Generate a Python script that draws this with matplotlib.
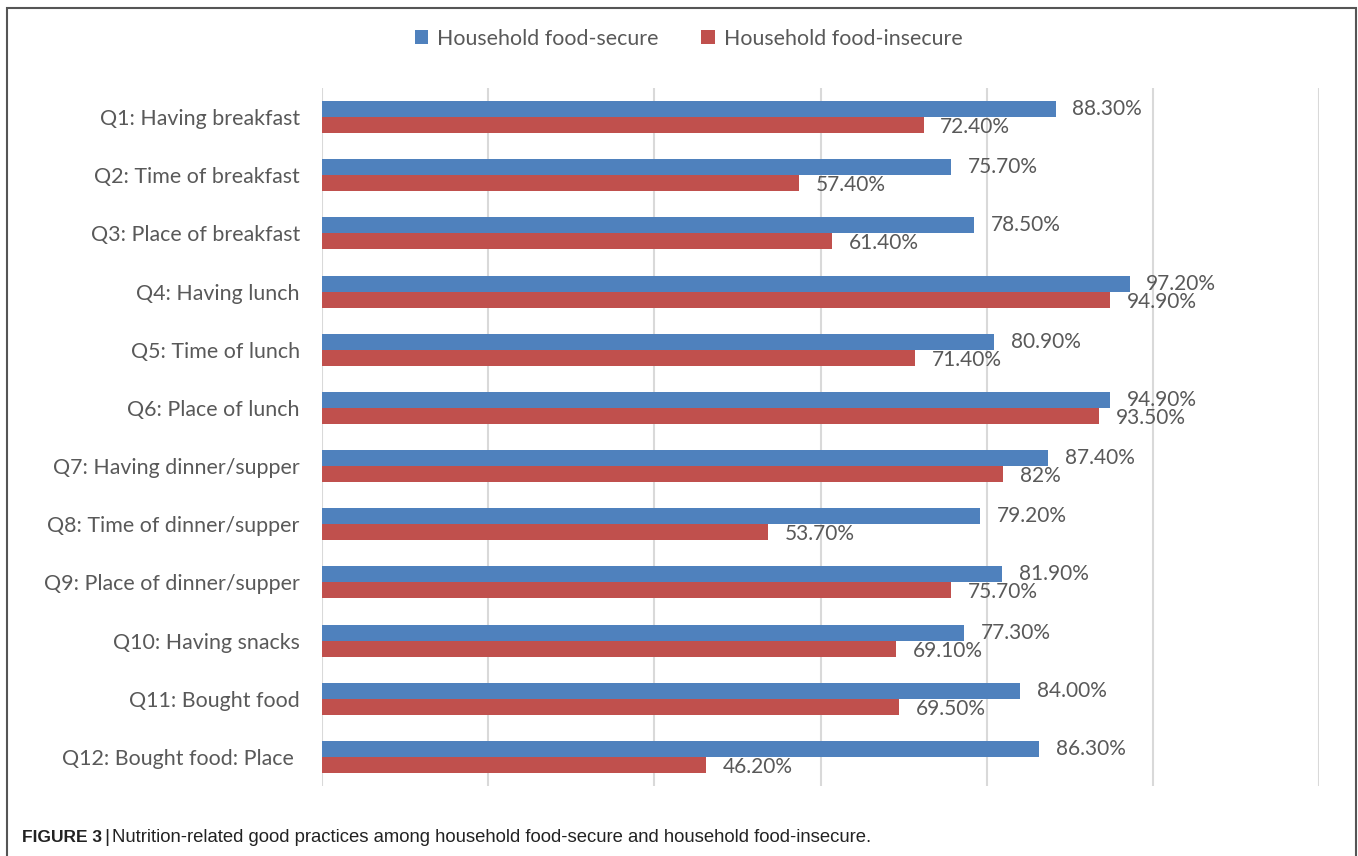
import matplotlib.pyplot as plt
import numpy as np
from matplotlib.patches import Rectangle

# Questions and percentages
questions = [
    'Q1: Having breakfast',
    'Q2: Time of breakfast',
    'Q3: Place of breakfast',
    'Q4: Having lunch',
    'Q5: Time of lunch',
    'Q6: Place of lunch',
    'Q7: Having dinner/supper',
    'Q8: Time of dinner/supper',
    'Q9: Place of dinner/supper',
    'Q10: Having snacks',
    'Q11: Bought food',
    'Q12: Bought food: Place ',
]
food_secure = [88.3, 75.7, 78.5, 97.2, 80.9, 94.9, 87.4, 79.2, 81.9, 77.3, 84.0, 86.3]
food_insecure = [72.4, 57.4, 61.4, 94.9, 71.4, 93.5, 82.0, 53.7, 75.7, 69.1, 69.5, 46.2]
secure_labels = ['88.30%', '75.70%', '78.50%', '97.20%', '80.90%', '94.90%',
                 '87.40%', '79.20%', '81.90%', '77.30%', '84.00%', '86.30%']
insecure_labels = ['72.40%', '57.40%', '61.40%', '94.90%', '71.40%', '93.50%',
                   '82%', '53.70%', '75.70%', '69.10%', '69.50%', '46.20%']

blue = '#4f81bd'
red = '#c0504d'
text_col = '#595959'
font = ['Lato', 'DejaVu Sans']
cap_font = ['Liberation Sans', 'DejaVu Sans']

fig = plt.figure(figsize=(13.58, 8.56), dpi=100)
ax = fig.add_axes([0.2371, 0.0818, 0.7342, 0.8154])

y = np.arange(len(questions))
h = 0.275
b1 = ax.barh(y - h / 2, food_secure, height=h, color=blue, zorder=3,
             label='Household food-secure')
b2 = ax.barh(y + h / 2, food_insecure, height=h, color=red, zorder=3,
             label='Household food-insecure')

# value labels (they overlap on Q4/Q6 in the original too)
for bars, labels, dy in ((b1, secure_labels, 0), (b2, insecure_labels, -1.5)):
    for bar, lab in zip(bars, labels):
        ax.annotate(lab, (bar.get_width(), bar.get_y() + bar.get_height() / 2),
                    xytext=(12, dy), textcoords='offset points',
                    ha='left', va='center', fontsize=15, color=text_col,
                    family=font)

ax.set_xlim(0, 120)
ax.set_ylim(len(questions) - 0.5, -0.5)
ax.set_xticks(np.arange(0, 121, 20))
ax.set_xticklabels([])
ax.tick_params(axis='x', length=0)
ax.tick_params(axis='y', length=0, pad=16)
ax.set_yticks(y)
ax.set_yticklabels(questions, fontsize=15.4, color=text_col, family=font)
ax.grid(axis='x', color='#d9d9d9', linewidth=1.5, zorder=0)
for s in ax.spines.values():
    s.set_visible(False)

leg = fig.legend(handles=[b1, b2], loc='center', bbox_to_anchor=(0.507, 0.955),
                 ncol=2, frameon=False, handlelength=0.65,
                 handleheight=0.65, handletextpad=0.4, columnspacing=2.0,
                 prop={'family': font, 'size': 15.4})
for t in leg.get_texts():
    t.set_color(text_col)

# outer frame
fig.patches.append(Rectangle((7 / 1358, -0.05), 1349 / 1358, 1.05 - 8 / 856,
                             transform=fig.transFigure, fill=False,
                             edgecolor='#555555', linewidth=1.5))

cap_y = 1 - 837 / 856
fig.text(22 / 1358, cap_y, 'FIGURE 3', fontsize=12.5, fontweight='bold',
         color='#222222', family=cap_font, va='center', ha='left')
fig.text(104 / 1358, cap_y, '|', fontsize=14, color='#222222', family=cap_font,
         va='center', ha='left')
fig.text(112 / 1358, cap_y,
         'Nutrition-related good practices among household food-secure and household food-insecure.',
         fontsize=13.3, color='#222222', family=cap_font, va='center', ha='left')

fig.savefig('out.png', dpi=100)
